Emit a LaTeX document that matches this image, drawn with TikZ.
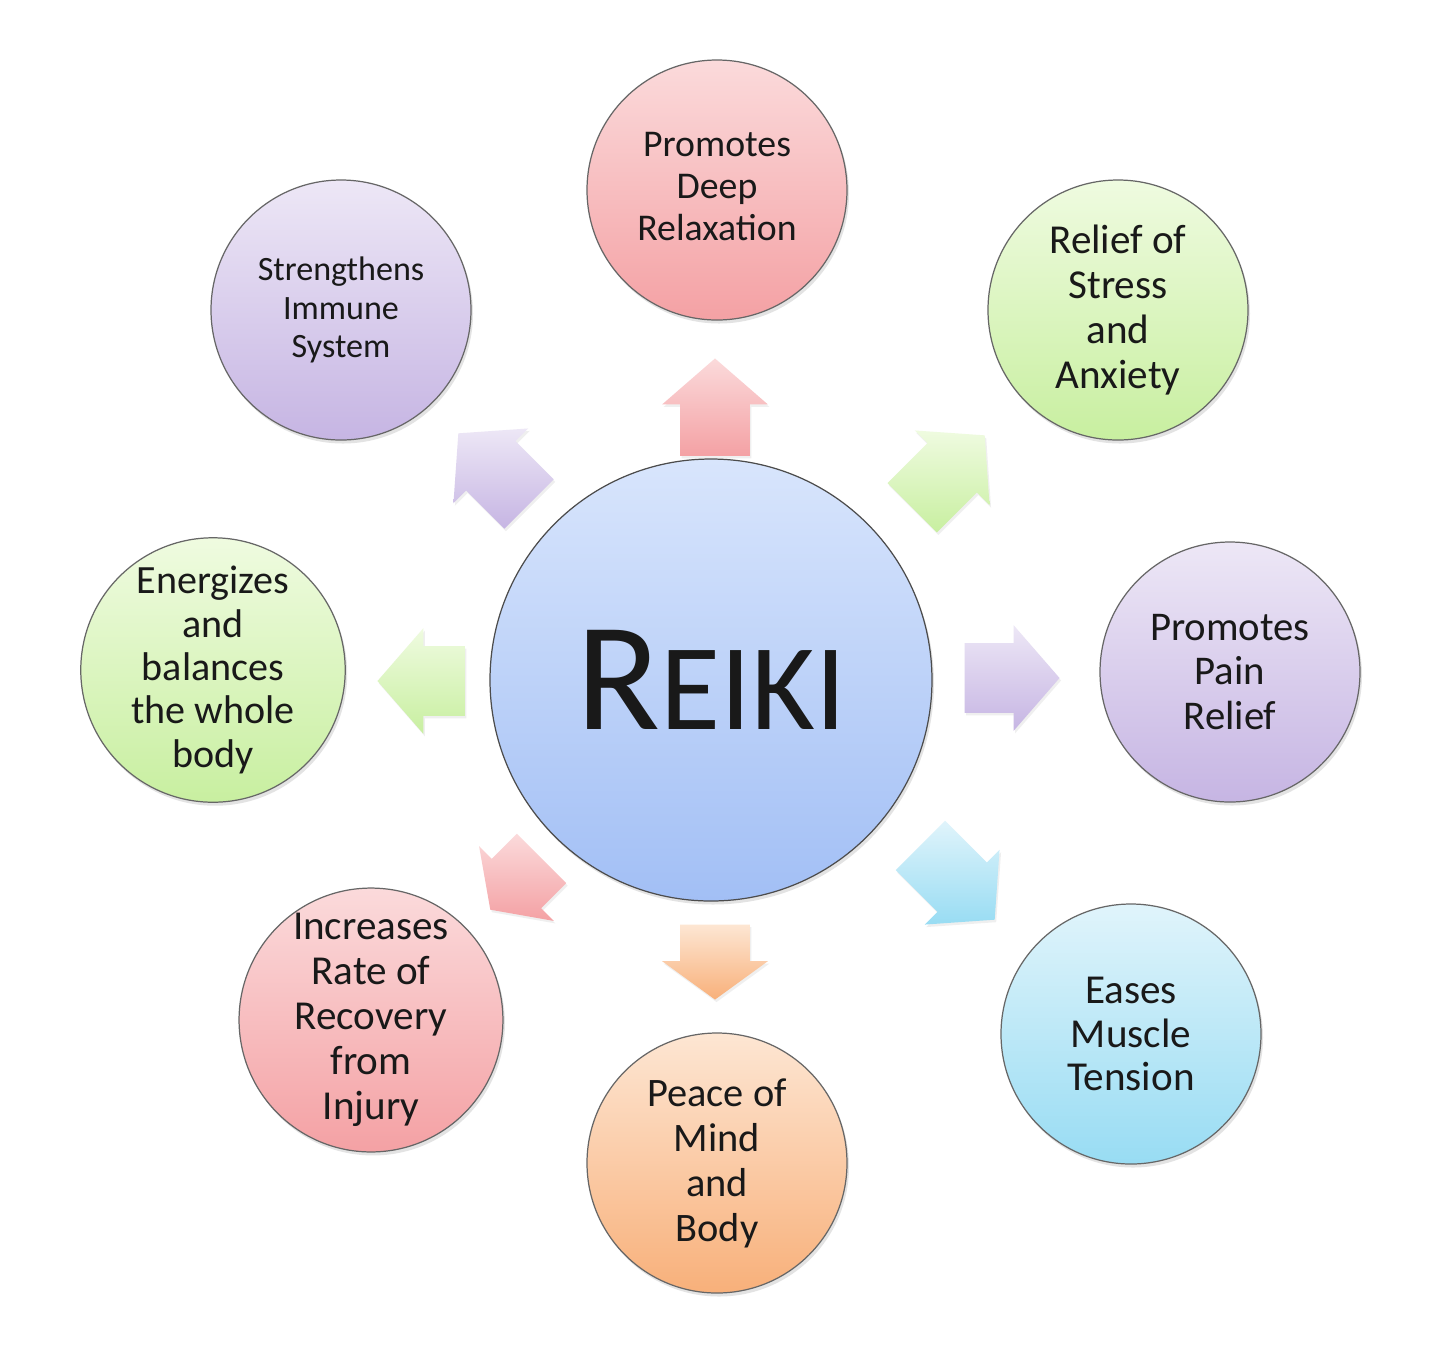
\documentclass[tikz,border=0pt]{standalone}
\usepackage{fontspec}
\setmainfont{Carlito}
\usetikzlibrary{shapes.arrows, shadows, positioning}

\definecolor{pinkT}{HTML}{FBDADB}
\definecolor{pinkB}{HTML}{F4A1A4}
\definecolor{greenT}{HTML}{EFFBE0}
\definecolor{greenB}{HTML}{C8EFA0}
\definecolor{lilacT}{HTML}{EDE7F6}
\definecolor{lilacB}{HTML}{C6B5E3}
\definecolor{cyanT}{HTML}{E0F4FB}
\definecolor{cyanB}{HTML}{98DCF3}
\definecolor{orangeT}{HTML}{FDE6D3}
\definecolor{orangeB}{HTML}{F8B07A}
\definecolor{blueT}{HTML}{D8E5FC}
\definecolor{blueB}{HTML}{A2BFF5}

\begin{document}
\begin{tikzpicture}[
  bubble/.style={circle, draw=black!60, line width=0.7pt, minimum size=5.2cm, inner sep=0pt,
    align=center, text=black!90, font=\fontsize{22.5}{25}\selectfont,
    drop shadow={opacity=0.22, shadow xshift=0.04cm, shadow yshift=-0.07cm}},
  hub/.style={bubble, minimum size=8.84cm, draw=black!70},
  shade2/.style 2 args={top color=#1, bottom color=#2},
  blockarrow/.style={single arrow, draw=none, text height=0pt, text depth=0pt,
    inner xsep=0pt, inner ysep=0.69cm, minimum height=1.95cm, anchor=tip,
    single arrow head extend=0.36cm, single arrow tip angle=98,
    drop shadow={opacity=0.12, shadow xshift=0.03cm, shadow yshift=-0.05cm}},
  arr/.style n args={3}{blockarrow, rotate=#1, top color=#2, bottom color=#3}
]
  \useasboundingbox (0,0) rectangle (28.8,-27.32);
  \fill[white] (0,0) rectangle (28.8,-27.32);

  % hub
  \node[hub, shade2={blueT}{blueB}] (reiki) at (14.22,-13.6)
    {{\fontsize{88}{88}\selectfont R}{\fontsize{70}{70}\selectfont EIKI}};

  % benefits
  \node[bubble, shade2={pinkT}{pinkB}, font=\fontsize{21.5}{24}\selectfont] (relax) at (14.34,-3.8)
    {\raisebox{0.54cm}{\begin{tabular}{@{}c@{}}Promotes\\Deep\\Relaxation\end{tabular}}};
  \node[bubble, shade2={greenT}{greenB}, font=\fontsize{23.4}{25.6}\selectfont] (stress) at (22.36,-6.2)
    {Relief of\\Stress\\and\\Anxiety};
  \node[bubble, shade2={lilacT}{lilacB}, font=\fontsize{23.2}{25.2}\selectfont] (pain) at (24.6,-13.44)
    {Promotes\\Pain\\Relief};
  \node[bubble, shade2={cyanT}{cyanB}, font=\fontsize{23.4}{25}\selectfont] (muscle) at (22.62,-20.68)
    {Eases\\Muscle\\Tension};
  \node[bubble, shade2={orangeT}{orangeB}, font=\fontsize{23}{25.6}\selectfont] (peace) at (14.34,-23.26)
    {Peace of\\Mind\\and\\Body};
  \node[bubble, shade2={pinkT}{pinkB}, font=\fontsize{23.4}{25.6}\selectfont] (injury) at (7.42,-20.4)
    {Increases\\Rate of\\Recovery\\from\\Injury};
  \node[bubble, shade2={greenT}{greenB}, font=\fontsize{22.8}{24.7}\selectfont] (energy) at (4.26,-13.4)
    {Energizes\\and\\balances\\the whole\\body};
  \node[bubble, shade2={lilacT}{lilacB}, font=\fontsize{19.4}{21.7}\selectfont] (immune) at (6.82,-6.2)
    {Strengthens\\Immune\\System};

  % block arrows, placed by their tips
  \node[arr={90}{pinkT}{pinkB}] (toRelax) at (14.3,-7.16) {};
  \node[arr={45}{greenT}{greenB}, minimum height=2.05cm] (toStress) at (19.7,-8.7) {};
  \node[arr={0}{lilacT}{lilacB}, minimum height=1.9cm] (toPain) at (21.2,-13.56) {};
  \node[arr={-45}{cyanT}{cyanB}, minimum height=2.1cm] (toMuscle) at (19.9,-18.4) {};
  \node[arr={-90}{orangeT}{orangeB}, minimum height=1.5cm, single arrow tip angle=108] (toPeace) at (14.3,-20.0) {};
  \node[arr={-135}{pinkT}{pinkB}, minimum height=1.45cm, single arrow tip angle=110] (toInjury) at (9.8,-18.2) {};
  \node[arr={180}{greenT}{greenB}, minimum height=1.75cm] (toEnergy) at (7.54,-13.62) {};
  \node[arr={135}{lilacT}{lilacB}, minimum height=2.0cm] (toImmune) at (9.16,-8.66) {};
\end{tikzpicture}
\end{document}
